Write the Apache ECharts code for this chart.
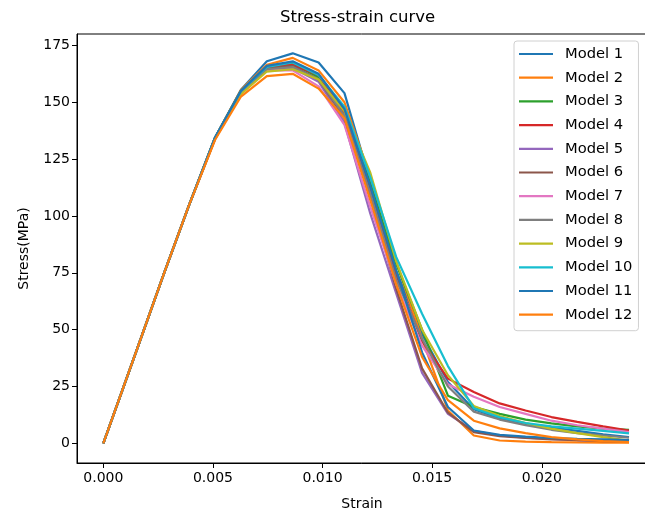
<!DOCTYPE html>
<html>
<head>
<meta charset="utf-8">
<script src="https://cdn.jsdelivr.net/npm/echarts@6/dist/echarts.min.js"></script>
<style>html,body{margin:0;padding:0;background:#fff}#c{width:645px;height:513px}</style>
</head>
<body>
<div id="c"></div>
<script>
const strain = [0, 0.00156, 0.00274, 0.00392, 0.0051, 0.00628, 0.00746, 0.00864, 0.00982, 0.011, 0.01218, 0.01336, 0.01454, 0.01572, 0.0169, 0.01808, 0.01926, 0.02044, 0.02162, 0.0228, 0.02398];
const xTicks = [0, 0.005, 0.010, 0.015, 0.020];
const yTicks = [0, 25, 50, 75, 100, 125, 150, 175];
const names = ['Model 1','Model 2','Model 3','Model 4','Model 5','Model 6','Model 7','Model 8','Model 9','Model 10','Model 11','Model 12'];
const colors = ['#1f77b4','#ff7f0e','#2ca02c','#d62728','#9467bd','#8c564b','#e377c2','#7f7f7f','#bcbd22','#17becf','#1f77b4','#ff7f0e'];
const model1  = [0,42,74,105,134.5,155.5,168,171.5,167.5,154,115,76,48,27,15,11,8.5,7,5.5,4,2.8];
const model2  = [0,42,74,105,134.5,155.5,166.5,169.5,164,150,117,80,46,14.5,3.5,1.3,0.8,0.6,0.5,0.4,0.3];
const model3  = [0,42,74,105,134.5,155,165.5,167,161,146,114,79,50,21,16,13,10.5,8.8,7.5,6.5,6];
const model4  = [0,42,74,105,134.5,155,165.5,166.5,162,145,112,74,45,28.5,22.6,17.6,14.5,11.6,9.5,7.5,5.7];
const model5  = [0,42,74,105,134,154,164,165,159,141,101,66,31,13,5.5,3.5,2.5,2,1.5,1.2,1];
const model6  = [0,42,74,105,134,154.5,165,166,160,143,108,68,33,13.5,5,3.2,2.4,1.8,1.4,1,0.8];
const model7  = [0,42,74,105,134,154,164,164,157,140,104,70,43,26,20.5,16,13,10,8,6.5,5];
const model8  = [0,42,74,105,134,154.5,164.5,165.5,160,144,110,72,46,25,14,10.5,8,6,4.5,3.5,2.5];
const model9  = [0,42,74,105,134,153.5,163.5,164.5,160,146,119,80,50,30,16.5,12,9,6.5,4.5,2.8,1.3];
const model10 = [0,42,74,105,134.5,155,165.5,167.5,162,148,117,82,57,34,15.5,11.5,9,7.5,6.5,5.5,4.4];
const model11 = [0,42,74,105,134.5,155,166,168,162.5,147,113,76,40,16,5.7,3.8,3,2.4,2,1.8,1.5];
const model12 = [0,42,74,105,133.5,152.5,161.5,162.5,156,143,107,70,38,19,10,6.6,4.5,2.8,1.8,1,0.6];
const stress = [model1,model2,model3,model4,model5,model6,model7,model8,model9,model10,model11,model12];

const font = 'DejaVu Sans';
const chart = echarts.init(document.getElementById('c'), null, {renderer:'canvas'});
chart.setOption({
  animation: false,
  backgroundColor: '#fff',
  title: {
    text: 'Stress-strain curve', left: 275, top: 4,
    textStyle: {fontFamily: font, fontSize: 16.5, fontWeight: 'normal', color: '#000'}
  },
  grid: {left: 77, right: -2, top: 34, bottom: 50, show: true, borderColor: '#000', borderWidth: 1, backgroundColor: 'transparent', containLabel: false, outerBoundsMode: 'none'},
  legend: {
    orient: 'vertical', left: 514, top: 41,
    data: names.map((n,i)=>({name:n, icon:'rect', itemStyle:{color:colors[i]}})),
    itemWidth: 34, itemHeight: 2.2, itemGap: 7.7,
    padding: [5, 6, 8, 5],
    backgroundColor: 'rgba(255,255,255,0.8)', borderColor: '#d0d0d0', borderWidth: 1, borderRadius: 3,
    textStyle: {fontFamily: font, fontSize: 14.7, color: '#000', lineHeight: 16, padding: [0,0,0,7]}
  },
  xAxis: {
    type: 'value', min: -0.0012, max: 0.0248,
    name: 'Strain', nameLocation: 'middle', nameGap: 34,
    nameTextStyle: {fontFamily: font, fontSize: 14, color: '#000'},
    axisLine: {show: true, onZero: false, lineStyle: {color: '#000'}},
    axisTick: {show: true, length: 5, lineStyle: {color: '#000'}, customValues: xTicks},
    axisLabel: {fontFamily: font, fontSize: 14, color: '#000', margin: 8, customValues: xTicks, formatter: v => v.toFixed(3)},
    splitLine: {show: false}
  },
  yAxis: {
    type: 'value', min: -8.6, max: 180,
    name: 'Stress(MPa)', nameLocation: 'middle', nameGap: 46, nameRotate: 90,
    nameTextStyle: {fontFamily: font, fontSize: 14, color: '#000'},
    axisLine: {show: true, onZero: false, lineStyle: {color: '#000'}},
    axisTick: {show: true, length: 5, lineStyle: {color: '#000'}, customValues: yTicks},
    axisLabel: {fontFamily: font, fontSize: 14, color: '#000', margin: 7, customValues: yTicks},
    splitLine: {show: false}
  },
  series: names.map((n,i)=>({
    name: n, type: 'line', symbol: 'none', showSymbol: false,
    data: strain.map((x,j)=>[x, stress[i][j]]),
    lineStyle: {width: 2.2, color: colors[i]}, itemStyle: {color: colors[i]},
    z: 2 + i
  }))
});
</script>
</body>
</html>
